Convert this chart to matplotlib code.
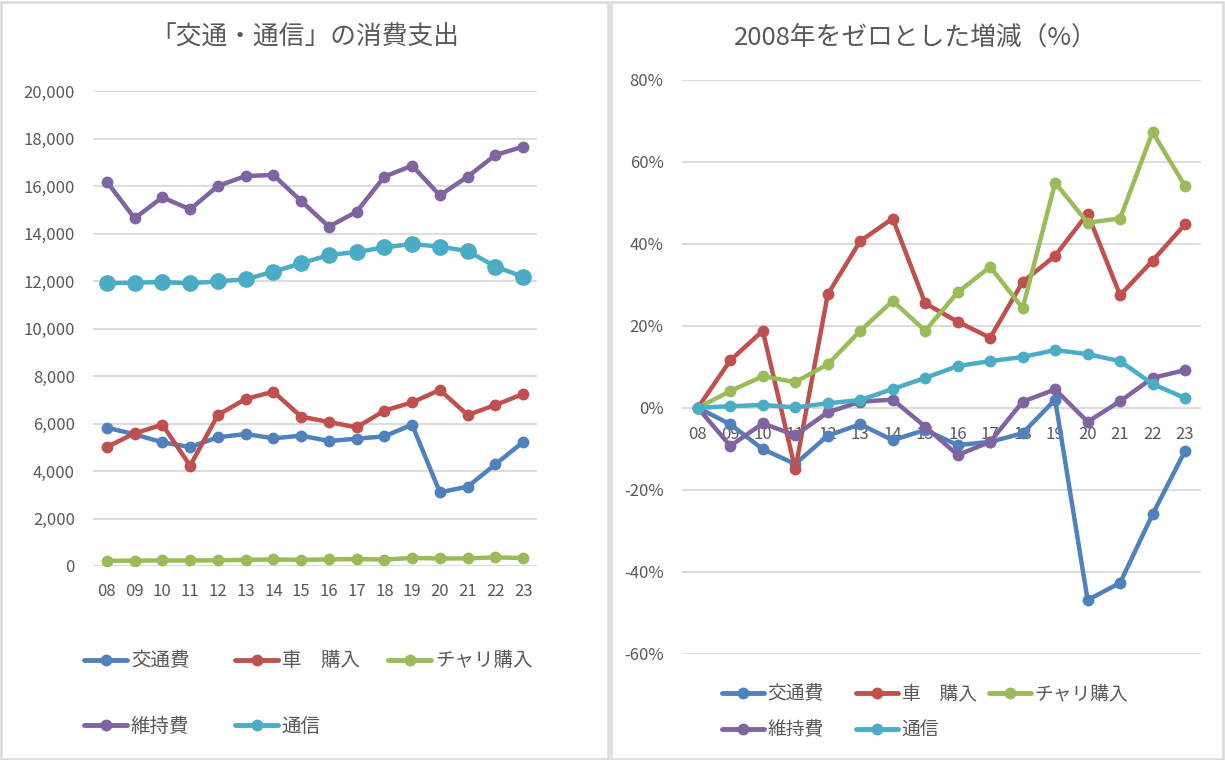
import matplotlib
matplotlib.use("Agg")
import matplotlib.pyplot as plt
from matplotlib.lines import Line2D
from matplotlib.patches import Rectangle
from matplotlib.ticker import StrMethodFormatter, PercentFormatter

plt.rcParams['font.family'] = ['Noto Sans CJK JP', 'DejaVu Sans']
plt.rcParams['axes.unicode_minus'] = False

# ---------------- data ----------------
years = ["08", "09", "10", "11", "12", "13", "14", "15",
         "16", "17", "18", "19", "20", "21", "22", "23"]
series_names = ["交通費", "車　購入", "チャリ購入", "維持費", "通信"]

# left chart: spending (yen)
kotsuhi = [5825, 5544, 5207, 5011, 5418, 5558, 5375, 5488,
           5263, 5361, 5459, 5951, 3102, 3340, 4281, 5221]
kuruma = [5011, 5586, 5951, 4225, 6358, 7032, 7340, 6288,
          6063, 5839, 6540, 6891, 7411, 6358, 6779, 7242]
chari = [218, 227, 235, 232, 241, 259, 275, 259,
         279, 293, 271, 338, 317, 319, 365, 336]
iji = [16181, 14640, 15523, 15018, 16000, 16421, 16463, 15368,
       14287, 14918, 16393, 16856, 15607, 16393, 17305, 17655]
tsushin = [11902, 11930, 11958, 11902, 11986, 12070, 12393, 12744,
           13095, 13221, 13417, 13558, 13446, 13263, 12604, 12182]

# right chart: change vs 2008 (%)
kotsuhi_pct = [0, -4.0, -10.1, -13.7, -6.8, -4.0, -7.9, -5.4,
               -9.1, -8.3, -6.2, 2.0, -46.9, -42.7, -26.0, -10.5]
kuruma_pct = [0, 11.6, 18.8, -15.0, 27.7, 40.7, 46.2, 25.5,
              21.0, 17.1, 30.7, 37.1, 47.4, 27.5, 35.9, 44.8]
chari_pct = [0, 4.1, 7.7, 6.3, 10.6, 18.8, 26.1, 18.8,
             28.2, 34.4, 24.3, 54.9, 45.2, 46.2, 67.3, 54.1]
iji_pct = [0, -9.3, -3.8, -6.7, -1.1, 1.5, 2.0, -4.6,
           -11.5, -8.3, 1.5, 4.5, -3.4, 1.6, 7.3, 9.2]
tsushin_pct = [0, 0.4, 0.7, 0.1, 1.1, 1.9, 4.6, 7.3,
               10.2, 11.4, 12.4, 14.1, 13.1, 11.4, 5.8, 2.4]

left_yticks = list(range(0, 20001, 2000))
right_yticks = list(range(-60, 81, 20))

left_title = "「交通・通信」の消費支出"
right_title = "2008年をゼロとした増減（%）"

colors = ["#4F81BD", "#C0504D", "#9BBB59", "#8064A2", "#4BACC6"]
text_color = "#595959"
grid_color = "#D9D9D9"

W, H = 1225, 760
fig = plt.figure(figsize=(W / 100, H / 100), dpi=100)

# panel borders
for (x0, x1) in [(1, 608), (611, 1223)]:
    fig.patches.append(Rectangle((x0 / W, 1 / H), (x1 - x0) / W, (758 - 1) / H,
                                 transform=fig.transFigure, fill=False,
                                 edgecolor=grid_color, linewidth=1.8))

x = list(range(len(years)))

# ---------------- left chart ----------------
ax1 = fig.add_axes([93 / W, 1 - 566 / H, (537 - 93) / W, (566 - 91) / H])
left_data = [kotsuhi, kuruma, chari, iji, tsushin]
left_ms = [7.5, 7.5, 7.5, 7.5, 11]
for vals, c, ms, name in zip(left_data, colors, left_ms, series_names):
    ax1.plot(x, vals, color=c, lw=3.2, marker='o', markersize=ms,
             solid_joinstyle='round', solid_capstyle='round', label=name, zorder=3)
ax1.set_xlim(-0.5, len(years) - 0.5)
ax1.set_ylim(0, 20000)
ax1.set_yticks(left_yticks)
ax1.yaxis.set_major_formatter(StrMethodFormatter('{x:,.0f}'))
ax1.set_xticks(x)
ax1.set_xticklabels(years)
ax1.grid(axis='y', color=grid_color, lw=1.3, zorder=0)
ax1.set_axisbelow(True)
for s in ax1.spines.values():
    s.set_visible(False)
ax1.tick_params(axis='both', length=0, labelsize=12, colors=text_color)
ax1.tick_params(axis='x', pad=12)
ax1.tick_params(axis='y', pad=13)

# ---------------- right chart ----------------
ax2 = fig.add_axes([681.6 / W, 1 - 653.7 / H, (1201.3 - 681.6) / W, (653.7 - 80) / H])
right_data = [kotsuhi_pct, kuruma_pct, chari_pct, iji_pct, tsushin_pct]
for vals, c, name in zip(right_data, colors, series_names):
    ax2.plot(x, vals, color=c, lw=3.2, marker='o', markersize=7.5,
             solid_joinstyle='round', solid_capstyle='round', label=name, zorder=3)
ax2.set_xlim(-0.5, len(years) - 0.5)
ax2.set_ylim(-60, 80)
ax2.set_yticks(right_yticks)
ax2.yaxis.set_major_formatter(PercentFormatter(xmax=100, decimals=0))
ax2.set_xticks(x)
ax2.set_xticklabels(years)
ax2.grid(axis='y', color=grid_color, lw=1.3, zorder=0)
ax2.set_axisbelow(True)
ax2.spines['bottom'].set_position(('data', 0))
for s in ax2.spines.values():
    s.set_visible(False)
ax2.tick_params(axis='both', length=0, labelsize=12, colors=text_color)
ax2.tick_params(axis='x', pad=13)
ax2.tick_params(axis='y', pad=13)

# ---------------- titles ----------------
fig.text(305 / W, 1 - 38 / H, left_title, ha='center', va='center',
         fontsize=18.5, color=text_color)
fig.text(916 / W, 1 - 38 / H, right_title, ha='center', va='center',
         fontsize=18.5, color=text_color)

# ---------------- legends ----------------
def add_entry(name, color, ms, x_px, y_px, fs, hl_px):
    h = Line2D([], [], color=color, lw=3.5, marker='o', markersize=ms,
               solid_capstyle='round')
    fs_px = fs / 72 * 100
    leg = fig.legend(handles=[h], labels=[name], loc='center left',
                     bbox_to_anchor=(x_px / W, 1 - y_px / H),
                     bbox_transform=fig.transFigure, frameon=False,
                     borderpad=0, borderaxespad=0, fontsize=fs,
                     handlelength=hl_px / fs_px, handletextpad=0.2,
                     labelcolor=text_color)
    return leg

left_pos = [(84, 661), (235, 661), (388, 661), (84, 726), (235, 726)]
for name, c, (px, py) in zip(series_names, colors, left_pos):
    add_entry(name, c, 7.5, px, py, 14, 43)

right_pos = [(722, 694), (856, 694), (989, 694), (722, 730), (856, 730)]
for name, c, (px, py) in zip(series_names, colors, right_pos):
    add_entry(name, c, 7.5, px, py, 13.5, 42)

fig.savefig("out.png", dpi=100)
